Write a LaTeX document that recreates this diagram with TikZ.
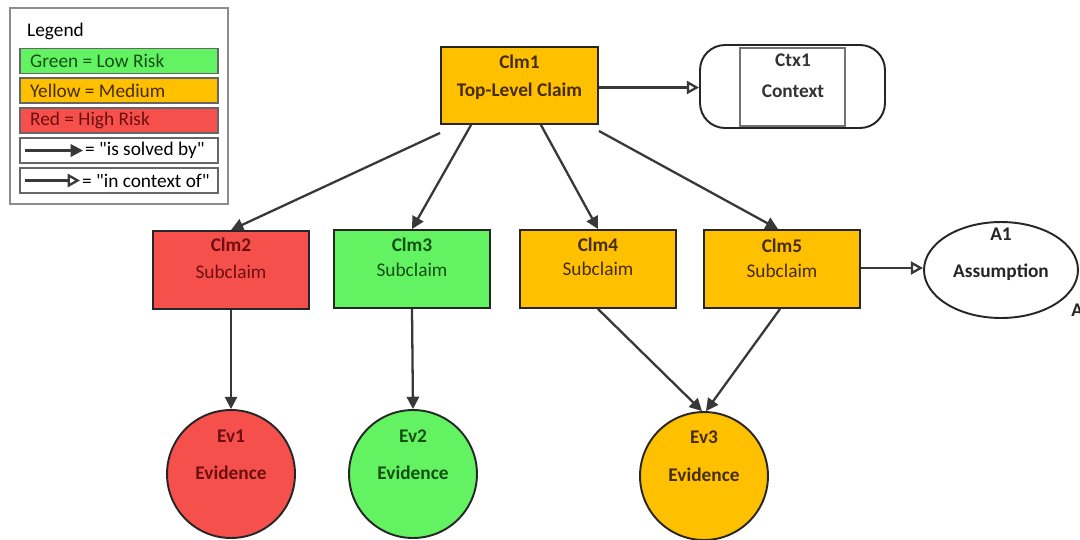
\documentclass[tikz,border=0pt]{standalone}
\usepackage{fontspec}
\setmainfont{Carlito}
\newfontfamily\rawfont{Carlito}
\usetikzlibrary{arrows.meta,shapes.geometric}
\definecolor{lowrisk}{RGB}{98,242,98}
\definecolor{medrisk}{RGB}{255,192,0}
\definecolor{highrisk}{RGB}{246,80,76}
\definecolor{lowtxt}{RGB}{20,80,20}
\definecolor{medtxt}{RGB}{70,45,10}
\definecolor{hightxt}{RGB}{110,15,15}
\tikzset{
  x=0.02cm, y=-0.02cm,
  every node/.style={font=\fontsize{11}{13}\selectfont},
  idfont/.style={font=\fontsize{11}{13}\selectfont\bfseries},
  bigfont/.style={font=\fontsize{11}{13}\selectfont\bfseries},
  claim/.style={draw=black!85, line width=1.1pt, minimum width=3.12cm, minimum height=1.56cm, inner sep=0pt},
  evid/.style={circle, draw=black!85, line width=1.1pt, minimum size=2.56cm, inner sep=0pt},
  solved/.style={-{Triangle[length=7pt,width=7pt]}, draw=black!78, line width=1.3pt},
  ctxof/.style={-{Triangle[open,length=7pt,width=7.5pt]}, draw=black!78, line width=1.3pt},
  legrow/.style={draw=black!60, line width=0.7pt, minimum width=3.96cm, minimum height=0.5cm, inner sep=0pt},
}
\begin{document}
\begin{tikzpicture}
\useasboundingbox[fill=white] (0,0) rectangle (1080,539);

% legend
\node[draw=black!45, line width=0.9pt, minimum width=4.36cm, minimum height=3.92cm] (legend) at (119,106) {};
\node[anchor=west] (legtitle) at (21,31) {Legend};
\node[legrow, fill=lowrisk] (lg1) at (119,61) {};
\node[anchor=west, text=lowtxt] at (24,61) {Green = Low Risk};
\node[legrow, fill=medrisk] (lg2) at (119,90.5) {};
\node[anchor=west, text=medtxt] at (24,90.5) {Yellow = Medium};
\node[legrow, fill=highrisk] (lg3) at (119,120.5) {};
\node[anchor=west, text=hightxt] at (24,120.5) {Red = High Risk};
\node[legrow, fill=white] (lg4) at (119,150.5) {};
\coordinate (s1) at (25,150.5);
\coordinate (s2) at (83,150.5);
\draw[solved] (s1) -- (s2);
\node[anchor=west, inner sep=1pt, font=\fontsize{11}{13}\rawfont] at (83,150.5) {= "is solved by"};
\node[legrow, fill=white] (lg5) at (119,180.5) {};
\coordinate (c1) at (25,180.5);
\coordinate (c2) at (80,180.5);
\draw[ctxof] (c1) -- (c2);
\node[anchor=west, inner sep=1pt, font=\fontsize{11}{13}\rawfont] at (80,180.5) {= "in context of"};

% top-level claim and context
\node[claim, fill=medrisk, minimum width=3.14cm, minimum height=1.54cm] (clm1) at (519.5,85.5) {};
\node[idfont, text=medtxt] at (519.5,62) {Clm1};
\node[bigfont, text=medtxt] at (519.5,91) {Top-Level Claim};

\node[draw=black!85, line width=1.1pt, rounded corners=0.5cm, minimum width=3.7cm, minimum height=1.66cm] (ctx1) at (792.5,86.5) {};
\draw[black!55, line width=0.9pt] (740,48) rectangle (845,126);
\node[idfont, text=black!80] at (793,60) {Ctx1};
\node[bigfont, text=black!80] at (793,91) {Context};

% subclaims
\node[claim, fill=highrisk] (clm2) at (231,270) {};
\node[idfont, text=hightxt] at (231,245) {Clm2};
\node[text=hightxt] at (231,272) {Subclaim};
\node[claim, fill=lowrisk] (clm3) at (412,269) {};
\node[idfont, text=lowtxt] at (412,245) {Clm3};
\node[text=lowtxt] at (412,270) {Subclaim};
\node[claim, fill=medrisk] (clm4) at (598,269) {};
\node[idfont, text=medtxt] at (598,245) {Clm4};
\node[text=medtxt] at (598,269) {Subclaim};
\node[claim, fill=medrisk] (clm5) at (782,269) {};
\node[idfont, text=medtxt] at (782,246) {Clm5};
\node[text=medtxt] at (782,271) {Subclaim};

% assumption
\node[ellipse, draw=black!85, line width=1.1pt, minimum width=3.08cm, minimum height=1.92cm, inner sep=0pt] (a1) at (1001,270) {};
\node[idfont, text=black!85] at (1001,234) {A1};
\node[bigfont, text=black!85] at (1001,272) {Assumption};
\node[anchor=west, inner sep=0pt, bigfont, text=black!85] (acut) at (1071,310) {A};

% evidence
\node[evid, fill=highrisk] (ev1) at (231,474) {};
\node[idfont, text=hightxt] at (231,436) {Ev1};
\node[bigfont, text=hightxt] at (231,473) {Evidence};
\node[evid, fill=lowrisk] (ev2) at (413,474) {};
\node[idfont, text=lowtxt] at (413,436) {Ev2};
\node[bigfont, text=lowtxt] at (413,473) {Evidence};
\node[evid, fill=medrisk] (ev3) at (704,476) {};
\node[idfont, text=medtxt] at (704,437) {Ev3};
\node[bigfont, text=medtxt] at (704,475) {Evidence};

% connectors
\draw[ctxof] ([yshift=-2*0.02cm]clm1.east) -- ([yshift=-2*0.02cm]clm1.east -| ctx1.west);
\draw[ctxof] ([yshift=1*0.02cm]clm5.east) -- ([yshift=1*0.02cm]clm5.east -| a1.west);
\draw[solved] ([yshift=-8*0.02cm]clm1.south west) -- (clm2.north);
\draw[solved] ([xshift=31*0.02cm]clm1.south west) -- (clm3.north);
\draw[solved] ([xshift=-58*0.02cm]clm1.south east) -- (clm4.north);
\draw[solved] ([yshift=-6*0.02cm]clm1.south east) -- ([xshift=-4*0.02cm]clm5.north);
\draw[solved] (clm2.south) -- (ev1.north);
\draw[solved] (clm3.south) -- (ev2.north);
\draw[solved] (clm4.south) -- ([xshift=-2*0.02cm]ev3.north);
\draw[solved] ([xshift=-2*0.02cm]clm5.south) -- ([xshift=2*0.02cm]ev3.north);
\end{tikzpicture}
\end{document}
